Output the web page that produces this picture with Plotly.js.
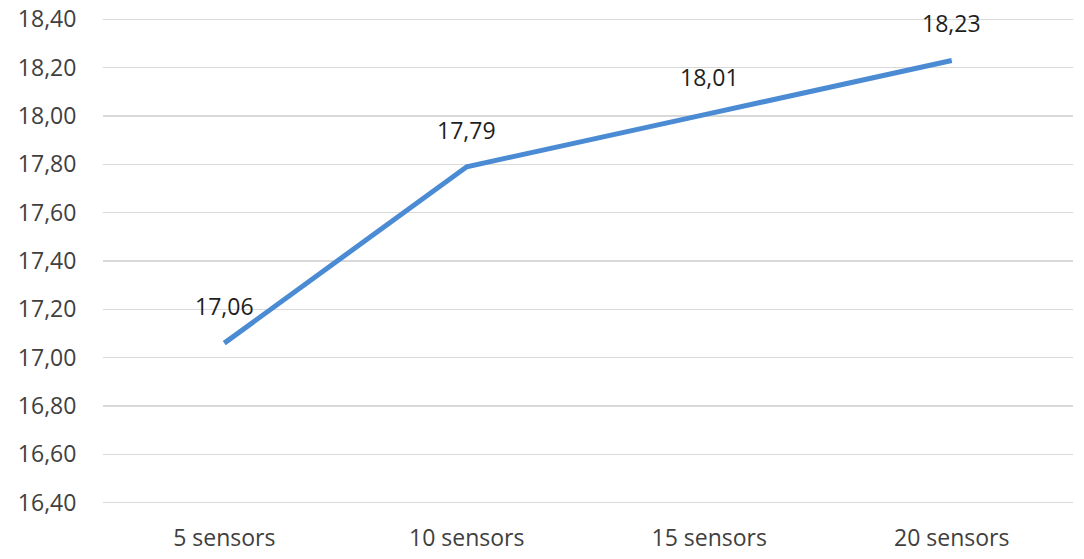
<!DOCTYPE html>
<html>
<head>
<meta charset="utf-8">
<script src="https://cdn.plot.ly/plotly-3.0.1.min.js"></script>
<style>
  html, body { margin: 0; padding: 0; background: #fff; }
  #chart { width: 1084px; height: 559px; }
</style>
</head>
<body>
<div id="chart"></div>
<script>
const categories = ['5 sensors', '10 sensors', '15 sensors', '20 sensors'];
const values = [17.06, 17.79, 18.01, 18.23];
const labels = ['17,06', '17,79', '18,01', '18,23'];
const yTicks = [16.4, 16.6, 16.8, 17.0, 17.2, 17.4, 17.6, 17.8, 18.0, 18.2, 18.4];
const yTickText = ['16,40', '16,60', '16,80', '17,00', '17,20', '17,40', '17,60', '17,80', '18,00', '18,20', '18,40'];

const font = 'Open Sans, Noto Sans, sans-serif';

const trace = {
  x: categories,
  y: values,
  type: 'scatter',
  mode: 'lines',
  line: { color: '#4a8bd3', width: 5 },
  hoverinfo: 'skip'
};

const annotations = categories.map((c, i) => ({
  x: c,
  y: values[i],
  text: labels[i],
  showarrow: false,
  yshift: 37,
  font: { family: font, size: 23, color: '#1e1e1e' }
}));

const layout = {
  width: 1084,
  height: 559,
  margin: { l: 103, r: 11, t: 17, b: 54 },
  paper_bgcolor: '#fff',
  plot_bgcolor: '#fff',
  showlegend: false,
  font: { family: font, size: 23, color: '#404040' },
  xaxis: {
    type: 'category',
    range: [-0.5, 3.5],
    showgrid: false,
    zeroline: false,
    showline: false,
    ticks: 'outside',
    ticklen: 12,
    tickcolor: 'rgba(0,0,0,0)',
    tickfont: { family: font, size: 23, color: '#404040' }
  },
  yaxis: {
    range: [16.39, 18.41],
    tickvals: yTicks,
    ticktext: yTickText,
    showgrid: true,
    gridcolor: '#d9d9d9',
    gridwidth: 1.5,
    zeroline: false,
    showline: false,
    ticks: 'outside',
    ticklen: 21,
    tickcolor: 'rgba(0,0,0,0)',
    tickfont: { family: font, size: 23, color: '#404040' }
  },
  annotations: annotations
};

Plotly.newPlot('chart', [trace], layout, { displayModeBar: false, staticPlot: true });
</script>
</body>
</html>
